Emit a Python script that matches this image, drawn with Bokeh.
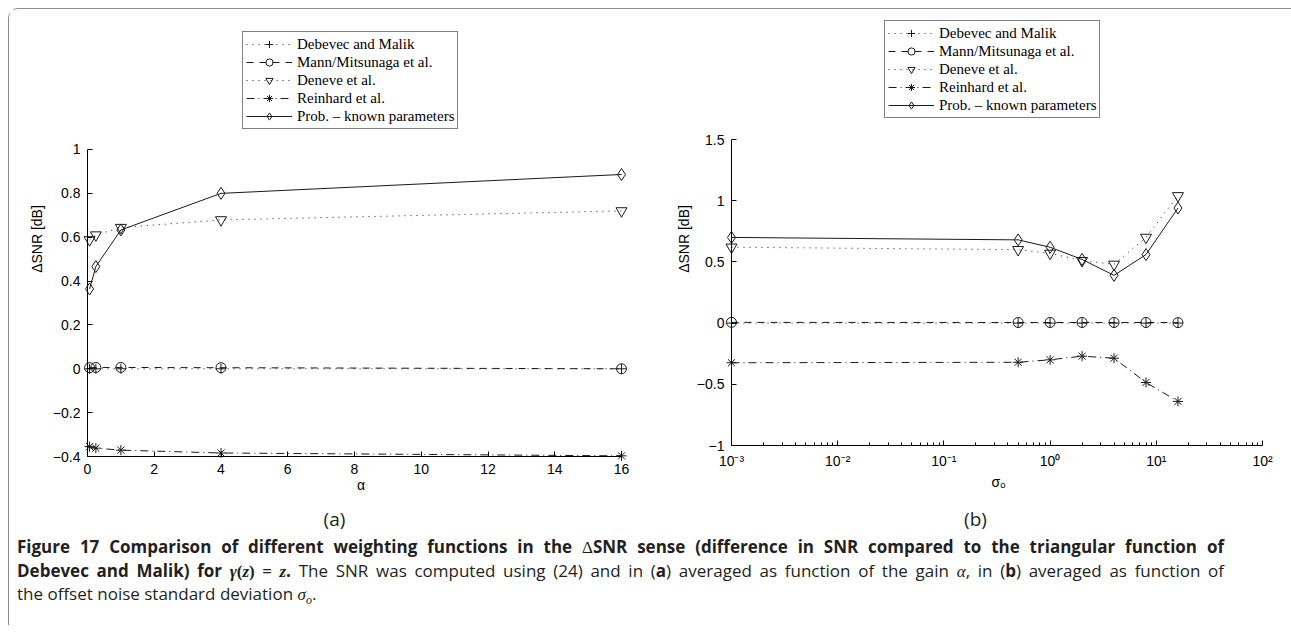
from bokeh.plotting import figure
from bokeh.models import (Range1d, FixedTicker, CustomJSTickFormatter, Legend,
                          LegendItem, Div, LinearAxis)
from bokeh.layouts import row, column
from bokeh.embed import file_html
from bokeh.resources import INLINE

# ---------------- data ----------------
series_names = ["Debevec and Malik", "Mann/Mitsunaga et al.", "Deneve et al.",
                "Reinhard et al.", "Prob. \u2013 known parameters"]

# panel (a): gain alpha
alpha = [1/16, 1/4, 1, 4, 16]
a_debevec = [0.0, 0.0, 0.0, 0.0, 0.0]
a_mann = [0.005, 0.006, 0.006, 0.005, 0.0]
a_deneve = [0.588, 0.61, 0.644, 0.679, 0.72]
a_reinhard = [-0.355, -0.362, -0.371, -0.384, -0.397]
a_prob = [0.364, 0.466, 0.633, 0.80, 0.886]

# panel (b): offset noise std sigma_o
sigma = [0.001, 0.5, 1, 2, 4, 8, 16]
b_debevec = [0.0, 0.0, 0.0, 0.0, 0.0, 0.0, 0.0]
b_mann = [0.006, 0.005, 0.005, 0.005, 0.005, 0.005, 0.004]
b_deneve = [0.62, 0.60, 0.57, 0.51, 0.48, 0.70, 1.04]
b_reinhard = [-0.324, -0.32, -0.30, -0.27, -0.287, -0.485, -0.64]
b_prob = [0.70, 0.68, 0.62, 0.52, 0.39, 0.56, 0.94]

a_yticks = [-0.4, -0.2, 0, 0.2, 0.4, 0.6, 0.8, 1]
a_xticks = [0, 2, 4, 6, 8, 10, 12, 14, 16]
b_yticks = [-1, -0.5, 0, 0.5, 1, 1.5]
b_xticks = [1e-3, 1e-2, 1e-1, 1e0, 1e1, 1e2]

# ---------------- styles ----------------
INK = "#1a1a1a"
line_dashes = ["1 5", "7 6", "1 5", "8 4 1 4", "solid"]
markers = ["cross", "circle", "inverted_triangle", "asterisk", "diamond"]
msizes = [10, 10, 11, 10, 12]

lin_fmt = CustomJSTickFormatter(code="""
const v = Math.round(tick * 10) / 10;
return v < 0 ? '\\u2212' + String(-v) : String(v);
""")
log_fmt = CustomJSTickFormatter(code="""
const e = Math.round(Math.log10(tick));
const sup = {'-': '\\u207b', '0': '\\u2070', '1': '\\u00b9', '2': '\\u00b2', '3': '\\u00b3'};
return '10' + String(e).split('').map(c => sup[c]).join('');
""")
blank_fmt = CustomJSTickFormatter(code="return '';")


def style_text_axis(ax):
    # labels only: the axis line and ticks are drawn by line_axis()
    ax.axis_line_color = None
    ax.major_tick_line_color = None
    ax.minor_tick_line_color = None
    ax.major_tick_in = 0
    ax.major_tick_out = 0
    ax.major_label_text_font = "Liberation Sans"
    ax.major_label_text_font_size = "14px"
    ax.major_label_text_color = "black"
    ax.axis_label_text_font = "Liberation Sans"
    ax.axis_label_text_font_size = "14px"
    ax.axis_label_text_font_style = "normal"
    ax.axis_label_text_color = "black"


def line_axis(ticks, bounds, loc, minor=None):
    # axis line + inward ticks drawn at a data location, no labels
    return LinearAxis(ticker=FixedTicker(ticks=ticks, minor_ticks=minor or []),
                      formatter=blank_fmt, bounds=bounds, fixed_location=loc,
                      axis_line_color="black", axis_line_width=1,
                      major_tick_line_color="black", major_tick_in=5,
                      major_tick_out=0,
                      minor_tick_line_color="black" if minor else None,
                      minor_tick_in=3, minor_tick_out=0,
                      major_label_text_font_size="0px", major_label_standoff=0)


def add_series(p, xs, ys_list, loc):
    items = []
    for name, ys, dash, mk, ms in zip(series_names, ys_list, line_dashes, markers, msizes):
        l = p.line(xs, ys, line_color=INK, line_width=1, line_dash=dash)
        s = p.scatter(xs, ys, marker=mk, size=ms, line_color=INK, line_width=1,
                      fill_alpha=0)
        items.append(LegendItem(label=name, renderers=[l, s]))
    leg = Legend(items=items, location=loc, margin=0, padding=3, spacing=0,
                 glyph_width=46, glyph_height=18, label_height=18, label_standoff=5,
                 label_text_font="Liberation Serif", label_text_font_size="15px",
                 label_text_color="black", border_line_color="black",
                 border_line_width=1, background_fill_color="white",
                 background_fill_alpha=1)
    p.add_layout(leg)


# both frames share the same vertical extent: page y 14..463
FIG_H = 499
TOP, BOT = 5, 45

# ---------------- panel (a) ----------------
# frame: page x 80..641 ; alpha=0 at x=87 (33.375 px/unit); 1 at y=149, -0.4 at y=456
fa = figure(width=651, height=FIG_H, title=None,
            x_range=Range1d(-7 / 33.375, 16 + 20 / 33.375),
            y_range=Range1d(-0.4 - 7 / 219.29, 1 + 135 / 219.29),
            output_backend="svg", toolbar_location=None,
            min_border_left=71, min_border_right=19,
            min_border_top=TOP, min_border_bottom=BOT)
fa.xgrid.visible = False
fa.ygrid.visible = False
fa.outline_line_color = None
style_text_axis(fa.xaxis[0])
style_text_axis(fa.yaxis[0])
fa.xaxis.ticker = FixedTicker(ticks=a_xticks)
fa.yaxis.ticker = FixedTicker(ticks=a_yticks)
fa.xaxis.formatter = lin_fmt
fa.yaxis.formatter = lin_fmt
fa.xaxis.bounds = (0, 16)
fa.yaxis.bounds = (-0.4, 1)
fa.xaxis.axis_label = "\u03b1"
fa.yaxis.axis_label = "\u0394SNR [dB]"
fa.xaxis.major_label_standoff = 0
fa.yaxis.major_label_standoff = 0
fa.xaxis.axis_label_standoff = 0
fa.yaxis.axis_label_standoff = 5
fa.add_layout(line_axis(a_yticks, (-0.4, 1), 0), "left")
fa.add_layout(line_axis(a_xticks, (0, 16), -0.4), "below")
add_series(fa, alpha, [a_debevec, a_mann, a_deneve, a_reinhard, a_prob], (162, 334))

# ---------------- panel (b) ----------------
# frame: page x 724..1272 ; 1e-3 at x=731 (106.2 px/decade); 1.5 at y=139, -1 at y=445
lx0 = 10 ** (-3 - 7 / 106.2)
lx1 = 10 ** (2 + 10 / 106.2)
fb = figure(width=631, height=FIG_H, title=None, x_axis_type="log",
            x_range=Range1d(lx0, lx1),
            y_range=Range1d(-1 - 18 / 122.4, 1.5 + 125 / 122.4),
            output_backend="svg", toolbar_location=None,
            min_border_left=64, min_border_right=19,
            min_border_top=TOP, min_border_bottom=BOT)
fb.xgrid.visible = False
fb.ygrid.visible = False
fb.outline_line_color = None
style_text_axis(fb.xaxis[0])
style_text_axis(fb.yaxis[0])
minor = [m * d for d in b_xticks[:-1] for m in range(2, 10)]
fb.xaxis.ticker = FixedTicker(ticks=b_xticks)
fb.yaxis.ticker = FixedTicker(ticks=b_yticks)
fb.xaxis.formatter = log_fmt
fb.yaxis.formatter = lin_fmt
fb.xaxis.bounds = (1e-3, 1e2)
fb.yaxis.bounds = (-1, 1.5)
fb.xaxis.axis_label = "\u03c3\u2092"
fb.yaxis.axis_label = "\u0394SNR [dB]"
fb.xaxis.major_label_standoff = -11
fb.yaxis.major_label_standoff = 0
fb.xaxis.axis_label_standoff = 2
fb.yaxis.axis_label_standoff = 2
fb.add_layout(line_axis(b_yticks, (-1, 1.5), 1e-3), "left")
fb.add_layout(line_axis(b_xticks, (1e-3, 1e2), -1, minor), "below")
add_series(fb, sigma, [b_debevec, b_mann, b_deneve, b_reinhard, b_prob], (160, 345))

# ---------------- sub-figure labels ----------------
SUB = "font-family:'Open Sans',Lato,sans-serif;font-size:19px;line-height:22px;color:#231f20;text-align:center;"
lab_h = 535 - 9 - FIG_H
lab_a = Div(text=f"<div style=\"{SUB}width:626px;padding-left:25px\">(a)</div>",
            width=651, height=lab_h, margin=0)
lab_b = Div(text=f"<div style=\"{SUB}width:631px\">(b)</div>",
            width=631, height=lab_h, margin=0)

# ---------------- caption ----------------
SER = "font-family:\"Liberation Serif\""
cap_html = (
    "<div style=\"font-family:'Open Sans',Lato,sans-serif;font-size:17px;"
    "line-height:22.5px;color:#231f20;width:1215px;padding-left:8px;padding-top:1px\">"
    "<div style='text-align:justify;text-align-last:justify;white-space:nowrap;font-weight:bold'>"
    "Figure 17 Comparison of different weighting functions in the "
    f"<span style='{SER};font-weight:normal'>\u0394</span>SNR "
    "sense (difference in SNR compared to the triangular function of</div>"
    "<div style='text-align:justify;text-align-last:justify;white-space:nowrap'>"
    "<b>Debevec and Malik) for "
    f"<i style='{SER}'>\u03b3</i>"
    f"<span style='{SER}'>(<i>z</i>) = <i>z</i></span>.</b> "
    "The SNR was computed using (24) and in (<b>a</b>) averaged as function of the gain "
    f"<i style='{SER}'>\u03b1</i>, in (<b>b</b>) averaged as "
    "function of</div>"
    "<div style='white-space:nowrap'>the offset noise standard deviation "
    f"<i style='{SER}'>\u03c3<sub style='font-size:12px'>o</sub></i>.</div>"
    "</div>"
)
cap = Div(text=cap_html, width=1282, height=90, margin=0)

layout = column(row(fa, fb), row(lab_a, lab_b), cap, margin=(8, 0, 0, 8),
                styles={"border-left": "1px solid #8c8c8c",
                        "border-top": "1px solid #8c8c8c",
                        "border-top-left-radius": "10px"})

open("out.html", "w").write(file_html(layout, INLINE))
